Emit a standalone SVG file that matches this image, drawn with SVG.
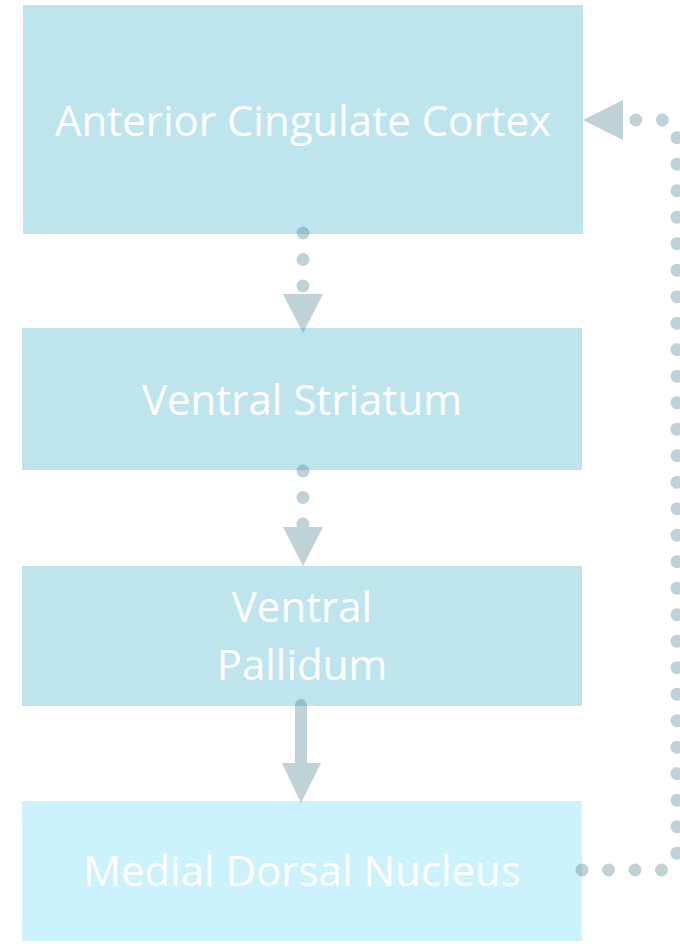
<svg xmlns="http://www.w3.org/2000/svg" width="680" height="944" viewBox="0 0 680 944">
  <style>
    .box { fill: #bee5ee; }
    .box-light { fill: #cbf2fd; }
    .label { fill: #ffffff; font-family: "Open Sans", "Noto Sans", sans-serif; font-size: 42px; text-anchor: middle; }
    .dots { fill: none; stroke: #4a7f8e; stroke-width: 13; stroke-linecap: round; stroke-dasharray: 0 26.5; }
    .solid { fill: none; stroke: #4a7f8e; stroke-width: 12; stroke-linecap: round; }
    .head { fill: #4a7f8e; }
  </style>

  <g id="node-acc">
    <rect class="box" x="23" y="5" width="560" height="229"/>
    <text class="label" x="303" y="136">Anterior Cingulate Cortex</text>
  </g>
  <g id="node-vs">
    <rect class="box" x="22" y="328" width="560" height="142"/>
    <text class="label" x="302" y="415">Ventral Striatum</text>
  </g>
  <g id="node-vp">
    <rect class="box" x="22" y="566" width="560" height="140"/>
    <text class="label" x="302" y="622">Ventral</text>
    <text class="label" x="302" y="680">Pallidum</text>
  </g>
  <g id="node-md">
    <rect class="box-light" x="22" y="801" width="560" height="140"/>
    <text class="label" x="302" y="886">Medial Dorsal Nucleus</text>
  </g>

  <g id="connectors" opacity="0.35">
    <!-- ACC to ventral striatum -->
    <path class="dots" d="M303,233 V290"/>
    <polygon class="head" points="283,294 323,294 303,333"/>
    <!-- ventral striatum to ventral pallidum -->
    <path class="dots" d="M303,471 V525"/>
    <polygon class="head" points="283,527 323,527 303,566"/>
    <!-- ventral pallidum to medial dorsal nucleus -->
    <path class="solid" d="M301,705 V765"/>
    <polygon class="head" points="282,763 321,763 301,803"/>
    <!-- medial dorsal nucleus back to ACC -->
    <path class="dots" d="M582,870 H662 Q677,870 677,855 V135 Q677,120 662,120 H622"/>
    <polygon class="head" points="583,120 623,100 623,140"/>
  </g>
</svg>
